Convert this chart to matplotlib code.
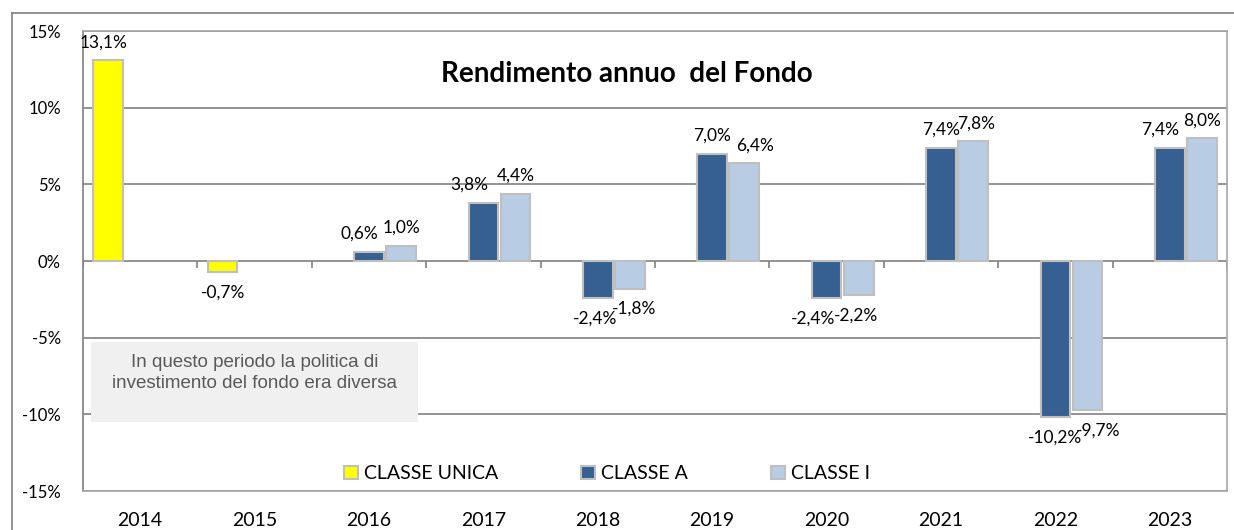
import numpy as np
import matplotlib.pyplot as plt
from matplotlib.patches import Rectangle
from matplotlib.lines import Line2D

plt.rcParams['font.family'] = ['Lato', 'DejaVu Sans']

years = ['2014', '2015', '2016', '2017', '2018', '2019', '2020', '2021', '2022', '2023']
unica = [13.1, -0.7, np.nan, np.nan, np.nan, np.nan, np.nan, np.nan, np.nan, np.nan]
classe_a = [np.nan, np.nan, 0.6, 3.8, -2.4, 7.0, -2.4, 7.4, -10.2, 7.4]
classe_i = [np.nan, np.nan, 1.0, 4.4, -1.8, 6.4, -2.2, 7.8, -9.7, 8.0]
series_names = ['CLASSE UNICA', 'CLASSE A', 'CLASSE I']
colors = ['#ffff00', '#366092', '#b8cce4']

# horizontal nudges of the value labels (points), as placed in the original
nudge_unica = [-3, 0, 0, 0, 0, 0, 0, 0, 0, 0]
nudge_a = [0, 0, -7, -10, -2, 0, -10, 0, 0, -7]
nudge_i = [0, 0, 0, 0, 3, 8, -2, 2, 8, 0]

fig = plt.figure(figsize=(12.34, 5.30), dpi=100)
ax = fig.add_axes([83/1234, 39/530, 1144/1234, 460/530])

x = np.arange(len(years))
w = 0.26
offsets = [-0.28, 0.0, 0.28]
for vals, off, col, name, nud in zip([unica, classe_a, classe_i], offsets, colors,
                                     series_names, [nudge_unica, nudge_a, nudge_i]):
    vals = np.array(vals, dtype=float)
    ax.bar(x + off, vals, width=w, color=col, edgecolor='#bfbfbf', linewidth=1.5, label=name, zorder=3)
    for xi, v, dx in zip(x + off, vals, nud):
        if np.isnan(v):
            continue
        lbl = ('%.1f%%' % v).replace('.', ',')
        if v >= 0:
            ax.annotate(lbl, (xi, v), xytext=(dx, 7), textcoords='offset points',
                        ha='center', va='bottom', fontsize=12.5)
        else:
            ax.annotate(lbl, (xi, v), xytext=(dx, -9), textcoords='offset points',
                        ha='center', va='top', fontsize=12.5)

ax.set_xlim(-0.5, len(years) - 0.5)
ax.set_ylim(-15, 15)
ax.set_yticks([-15, -10, -5, 0, 5, 10, 15])
ax.set_yticklabels(['-15%', '-10%', '-5%', '0%', '5%', '10%', '15%'], fontsize=12)
ax.set_xticks(x)
ax.set_xticklabels(years, fontsize=14)
ax.tick_params(axis='both', length=0)
ax.tick_params(axis='x', pad=15)
ax.tick_params(axis='y', pad=16)
ax.grid(axis='y', color='#808080', linewidth=1.2, zorder=0)
# category tick marks on the zero line
ax.vlines(np.arange(len(years) + 1) - 0.5, 0, -0.45, color='#808080', linewidth=1.2, zorder=1)
for s in ax.spines.values():
    s.set_color('#a6a6a6')
    s.set_linewidth(1.2)
ax.spines['left'].set_color('#808080')

ax.text(0.475, 0.907, 'Rendimento annuo  del Fondo', transform=ax.transAxes,
        ha='center', va='center', fontsize=20, fontweight='bold')

# box for the old policy period
ax.add_patch(Rectangle((-0.43, -10.5), 2.86, 5.2, facecolor='#f0f0f0', edgecolor='none', zorder=4))
ax.text(1.0, -7.3, 'In questo periodo la politica di\ninvestimento del fondo era diversa',
        ha='center', va='center', fontsize=13.5, color='#595959',
        family='Liberation Sans', linespacing=1.3, zorder=5)

leg = ax.legend(loc='center', bbox_to_anchor=(0.458, 0.037), ncol=3, frameon=False,
                fontsize=14, handlelength=0.7, handleheight=0.7, columnspacing=4.3,
                handletextpad=0.3)

# outer frame
fig.add_artist(Line2D([12/1234, 1], [1 - 13/530, 1 - 13/530], color='#808080', linewidth=1.2))
fig.add_artist(Line2D([12/1234, 12/1234], [0, 1 - 13/530], color='#808080', linewidth=1.2))

fig.savefig('out.png', dpi=100)
